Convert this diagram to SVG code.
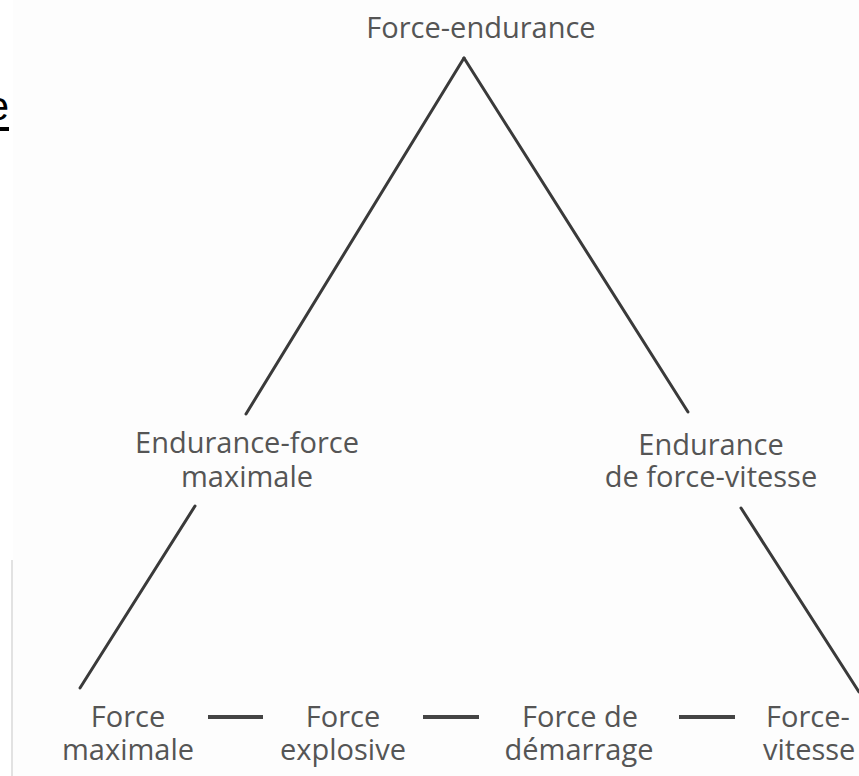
<svg xmlns="http://www.w3.org/2000/svg" width="859" height="776" viewBox="0 0 859 776">
<style>
.lbl{font-family:"Open Sans","Noto Sans",sans-serif;font-size:29px;fill:#555;text-anchor:middle}
.ln{stroke:#3a3a3a;stroke-width:3;fill:none;stroke-linecap:round}
.dash{stroke:#444;stroke-width:4;fill:none}
</style>
<rect x="0" y="0" width="859" height="776" fill="#ffffff"/>
<rect x="13" y="0" width="846" height="776" fill="#fdfdfd"/>
<line x1="12" y1="560" x2="12" y2="776" stroke="#e2e2e2" stroke-width="2"/>
<g id="fragment">
<text x="9" y="120" font-family="Liberation Sans, sans-serif" font-size="40" fill="#000" text-anchor="end">e</text>
<rect x="0" y="127" width="9" height="4" fill="#000"/>
</g>
<g id="connectors">
<line class="ln" x1="464" y1="58" x2="246" y2="414"/>
<line class="ln" x1="464" y1="58" x2="688" y2="412"/>
<line class="ln" x1="195" y1="506" x2="80" y2="688"/>
<line class="ln" x1="741" y1="508" x2="859" y2="692"/>
<line class="dash" x1="208" y1="717" x2="263" y2="717"/>
<line class="dash" x1="423" y1="717" x2="479" y2="717"/>
<line class="dash" x1="679" y1="717" x2="735" y2="717"/>
</g>
<g id="force-endurance"><text class="lbl" x="481" y="38">Force-endurance</text></g>
<g id="endurance-force-maximale">
<text class="lbl" x="247" y="453">Endurance-force</text>
<text class="lbl" x="247" y="487">maximale</text>
</g>
<g id="endurance-force-vitesse">
<text class="lbl" x="711" y="455">Endurance</text>
<text class="lbl" x="711" y="487">de force-vitesse</text>
</g>
<g id="force-maximale">
<text class="lbl" x="128" y="727">Force</text>
<text class="lbl" x="128" y="760">maximale</text>
</g>
<g id="force-explosive">
<text class="lbl" x="343" y="727">Force</text>
<text class="lbl" x="343" y="760">explosive</text>
</g>
<g id="force-demarrage">
<text class="lbl" x="580" y="727">Force de</text>
<text class="lbl" x="579" y="760">démarrage</text>
</g>
<g id="force-vitesse">
<text class="lbl" x="766" y="727" style="text-anchor:start">Force-</text>
<text class="lbl" x="763" y="760" style="text-anchor:start">vitesse</text>
</g>
</svg>
